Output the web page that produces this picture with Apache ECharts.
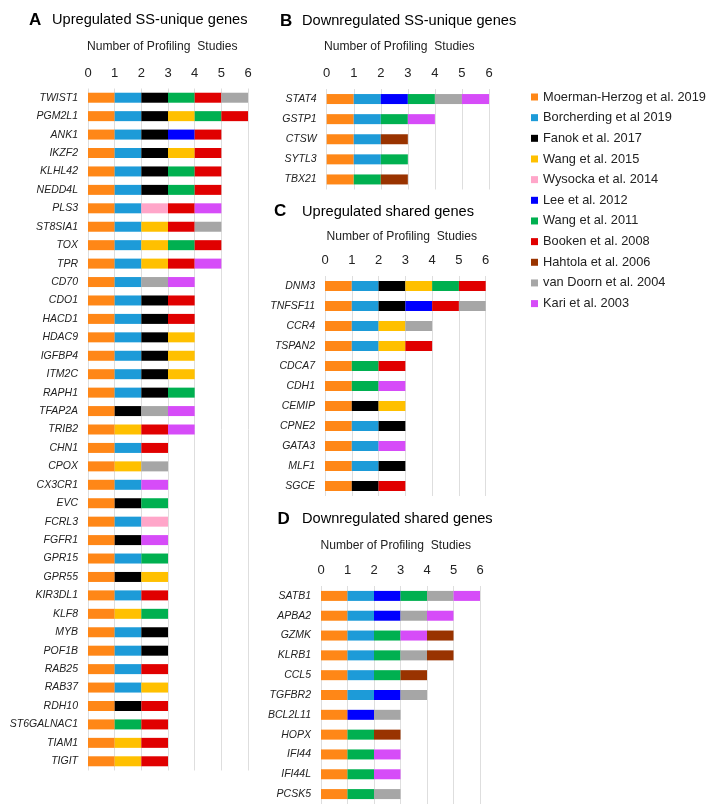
<!DOCTYPE html>
<html>
<head>
<meta charset="utf-8">
<script src="https://cdn.jsdelivr.net/npm/echarts@6/dist/echarts.min.js"></script>
<style>
  html, body { margin: 0; padding: 0; background: #fff; }
  #chart { width: 716px; height: 810px; }
</style>
</head>
<body>
<div id="chart"></div>
<script>
// studies, in legend order (code -> name)
var studyCodes = ['M', 'B', 'F', 'W15', 'Wy', 'L', 'W11', 'Bk', 'H', 'vD', 'K'];
var studyNames = ['Moerman-Herzog et al. 2019', 'Borcherding et al 2019', 'Fanok et al. 2017', 'Wang et al. 2015',
  'Wysocka et al. 2014', 'Lee et al. 2012', 'Wang et al. 2011', 'Booken et al. 2008', 'Hahtola et al. 2006',
  'van Doorn et al. 2004', 'Kari et al. 2003'];
var studyColors = ['#ff8717', '#1d9bd8', '#000000', '#ffc000', '#ffa6c9', '#0000ff', '#00b050', '#e00000',
  '#993300', '#a6a6a6', '#d64cf8'];

// A: upregulated SS-unique genes
var genesA = ['TWIST1', 'PGM2L1', 'ANK1', 'IKZF2', 'KLHL42', 'NEDD4L', 'PLS3', 'ST8SIA1', 'TOX', 'TPR',
  'CD70', 'CDO1', 'HACD1', 'HDAC9', 'IGFBP4', 'ITM2C', 'RAPH1', 'TFAP2A', 'TRIB2', 'CHN1', 'CPOX',
  'CX3CR1', 'EVC', 'FCRL3', 'FGFR1', 'GPR15', 'GPR55', 'KIR3DL1', 'KLF8', 'MYB', 'POF1B', 'RAB25',
  'RAB37', 'RDH10', 'ST6GALNAC1', 'TIAM1', 'TIGIT'];
var hitsA = [
  ['M', 'B', 'F', 'W11', 'Bk', 'vD'], ['M', 'B', 'F', 'W15', 'W11', 'Bk'], ['M', 'B', 'F', 'L', 'Bk'],
  ['M', 'B', 'F', 'W15', 'Bk'], ['M', 'B', 'F', 'W11', 'Bk'], ['M', 'B', 'F', 'W11', 'Bk'],
  ['M', 'B', 'Wy', 'Bk', 'K'], ['M', 'B', 'W15', 'Bk', 'vD'], ['M', 'B', 'W15', 'W11', 'Bk'],
  ['M', 'B', 'W15', 'Bk', 'K'], ['M', 'B', 'vD', 'K'], ['M', 'B', 'F', 'Bk'], ['M', 'B', 'F', 'Bk'],
  ['M', 'B', 'F', 'W15'], ['M', 'B', 'F', 'W15'], ['M', 'B', 'F', 'W15'], ['M', 'B', 'F', 'W11'],
  ['M', 'F', 'vD', 'K'], ['M', 'W15', 'Bk', 'K'], ['M', 'B', 'Bk'], ['M', 'W15', 'vD'], ['M', 'B', 'K'],
  ['M', 'F', 'W11'], ['M', 'B', 'Wy'], ['M', 'F', 'K'], ['M', 'B', 'W11'], ['M', 'F', 'W15'],
  ['M', 'B', 'Bk'], ['M', 'W15', 'W11'], ['M', 'B', 'F'], ['M', 'B', 'F'], ['M', 'B', 'Bk'],
  ['M', 'B', 'W15'], ['M', 'F', 'Bk'], ['M', 'W11', 'Bk'], ['M', 'W15', 'Bk'], ['M', 'W15', 'Bk']
];

// B: downregulated SS-unique genes
var genesB = ['STAT4', 'GSTP1', 'CTSW', 'SYTL3', 'TBX21'];
var hitsB = [
  ['M', 'B', 'L', 'W11', 'vD', 'K'], ['M', 'B', 'W11', 'K'], ['M', 'B', 'H'], ['M', 'B', 'W11'], ['M', 'W11', 'H']
];

// C: upregulated shared genes
var genesC = ['DNM3', 'TNFSF11', 'CCR4', 'TSPAN2', 'CDCA7', 'CDH1', 'CEMIP', 'CPNE2', 'GATA3', 'MLF1', 'SGCE'];
var hitsC = [
  ['M', 'B', 'F', 'W15', 'W11', 'Bk'], ['M', 'B', 'F', 'L', 'Bk', 'vD'], ['M', 'B', 'W15', 'vD'],
  ['M', 'B', 'W15', 'Bk'], ['M', 'W11', 'Bk'], ['M', 'W11', 'K'], ['M', 'F', 'W15'], ['M', 'B', 'F'],
  ['M', 'B', 'K'], ['M', 'B', 'F'], ['M', 'F', 'Bk']
];

// D: downregulated shared genes
var genesD = ['SATB1', 'APBA2', 'GZMK', 'KLRB1', 'CCL5', 'TGFBR2', 'BCL2L11', 'HOPX', 'IFI44', 'IFI44L', 'PCSK5'];
var hitsD = [
  ['M', 'B', 'L', 'W11', 'vD', 'K'], ['M', 'B', 'L', 'vD', 'K'], ['M', 'B', 'W11', 'K', 'H'],
  ['M', 'B', 'W11', 'vD', 'H'], ['M', 'B', 'W11', 'H'], ['M', 'B', 'L', 'vD'], ['M', 'L', 'vD'],
  ['M', 'W11', 'H'], ['M', 'W11', 'K'], ['M', 'W11', 'K'], ['M', 'W11', 'vD']
];

var xTicks = [0, 1, 2, 3, 4, 5, 6];

var panels = [
  { letter: 'A', title: 'Upregulated SS-unique genes', genes: genesA, hits: hitsA,
    grid: { left: 88, top: 88.5, width: 160, height: 682 }, lx: 29, tx: 52, ty: 20, sx: 87, sy: 47 },
  { letter: 'B', title: 'Downregulated SS-unique genes', genes: genesB, hits: hitsB,
    grid: { left: 326.7, top: 89, width: 162.3, height: 100.5 }, lx: 280, tx: 302, ty: 21, sx: 324, sy: 47 },
  { letter: 'C', title: 'Upregulated shared genes', genes: genesC, hits: hitsC,
    grid: { left: 325, top: 276, width: 160.7, height: 220 }, lx: 274, tx: 302, ty: 211.5, sx: 326.5, sy: 237 },
  { letter: 'D', title: 'Downregulated shared genes', genes: genesD, hits: hitsD,
    grid: { left: 321, top: 586, width: 159, height: 218 }, lx: 277.5, tx: 302, ty: 519, sx: 320.5, sy: 546 }
];

var font = '"Liberation Sans", Arial, sans-serif';
var textColor = '#222';

var grids = [], xAxes = [], yAxes = [], series = [], graphics = [];

panels.forEach(function (p, i) {
  grids.push(p.grid);
  xAxes.push({
    gridIndex: i, type: 'value', position: 'top', min: 0, max: 6, interval: 1,
    axisLine: { show: false }, axisTick: { show: false },
    axisLabel: { margin: 9, fontSize: 13, color: textColor, fontFamily: font,
      formatter: function (v) { return xTicks.indexOf(v) >= 0 ? String(v) : ''; } },
    splitLine: { show: true, lineStyle: { color: '#dedede', width: 1 } }
  });
  yAxes.push({
    gridIndex: i, type: 'category', data: p.genes, inverse: true,
    axisLine: { show: false }, axisTick: { show: false },
    axisLabel: { margin: 10, fontSize: 10.5, fontStyle: 'italic', color: textColor, fontFamily: font }
  });
  // panel D stacks Hahtola last
  var order = studyCodes.slice();
  if (p.letter === 'D') {
    order.splice(order.indexOf('H'), 1);
    order.push('H');
  }
  order.forEach(function (code) {
    var k = studyCodes.indexOf(code);
    series.push({
      name: studyNames[k], type: 'bar', stack: 'p' + p.letter,
      xAxisIndex: i, yAxisIndex: i, barWidth: 10,
      itemStyle: { color: studyColors[k] },
      emphasis: { disabled: true },
      data: p.hits.map(function (h) { return h.indexOf(code) >= 0 ? 1 : '-'; })
    });
  });
  graphics.push(
    { type: 'text', x: p.lx, y: p.ty, style: { text: p.letter, font: 'bold 17px ' + font, fill: '#000', verticalAlign: 'middle' } },
    { type: 'text', x: p.tx, y: p.ty, style: { text: p.title, font: '14.6px ' + font, fill: '#000', verticalAlign: 'middle' } },
    { type: 'text', x: p.sx, y: p.sy, style: { text: 'Number of Profiling  Studies', font: '12.1px ' + font, fill: textColor, verticalAlign: 'middle' } }
  );
});

var chart = echarts.init(document.getElementById('chart'));
chart.setOption({
  animation: false,
  backgroundColor: '#fff',
  legend: {
    data: studyNames, orient: 'vertical', left: 531, top: 90, padding: 0,
    icon: 'rect', itemWidth: 7, itemHeight: 7, itemGap: 6.66,
    textStyle: { fontSize: 12.8, lineHeight: 14, color: textColor, fontFamily: font }
  },
  grid: grids,
  xAxis: xAxes,
  yAxis: yAxes,
  series: series,
  graphic: graphics
});
</script>
</body>
</html>
